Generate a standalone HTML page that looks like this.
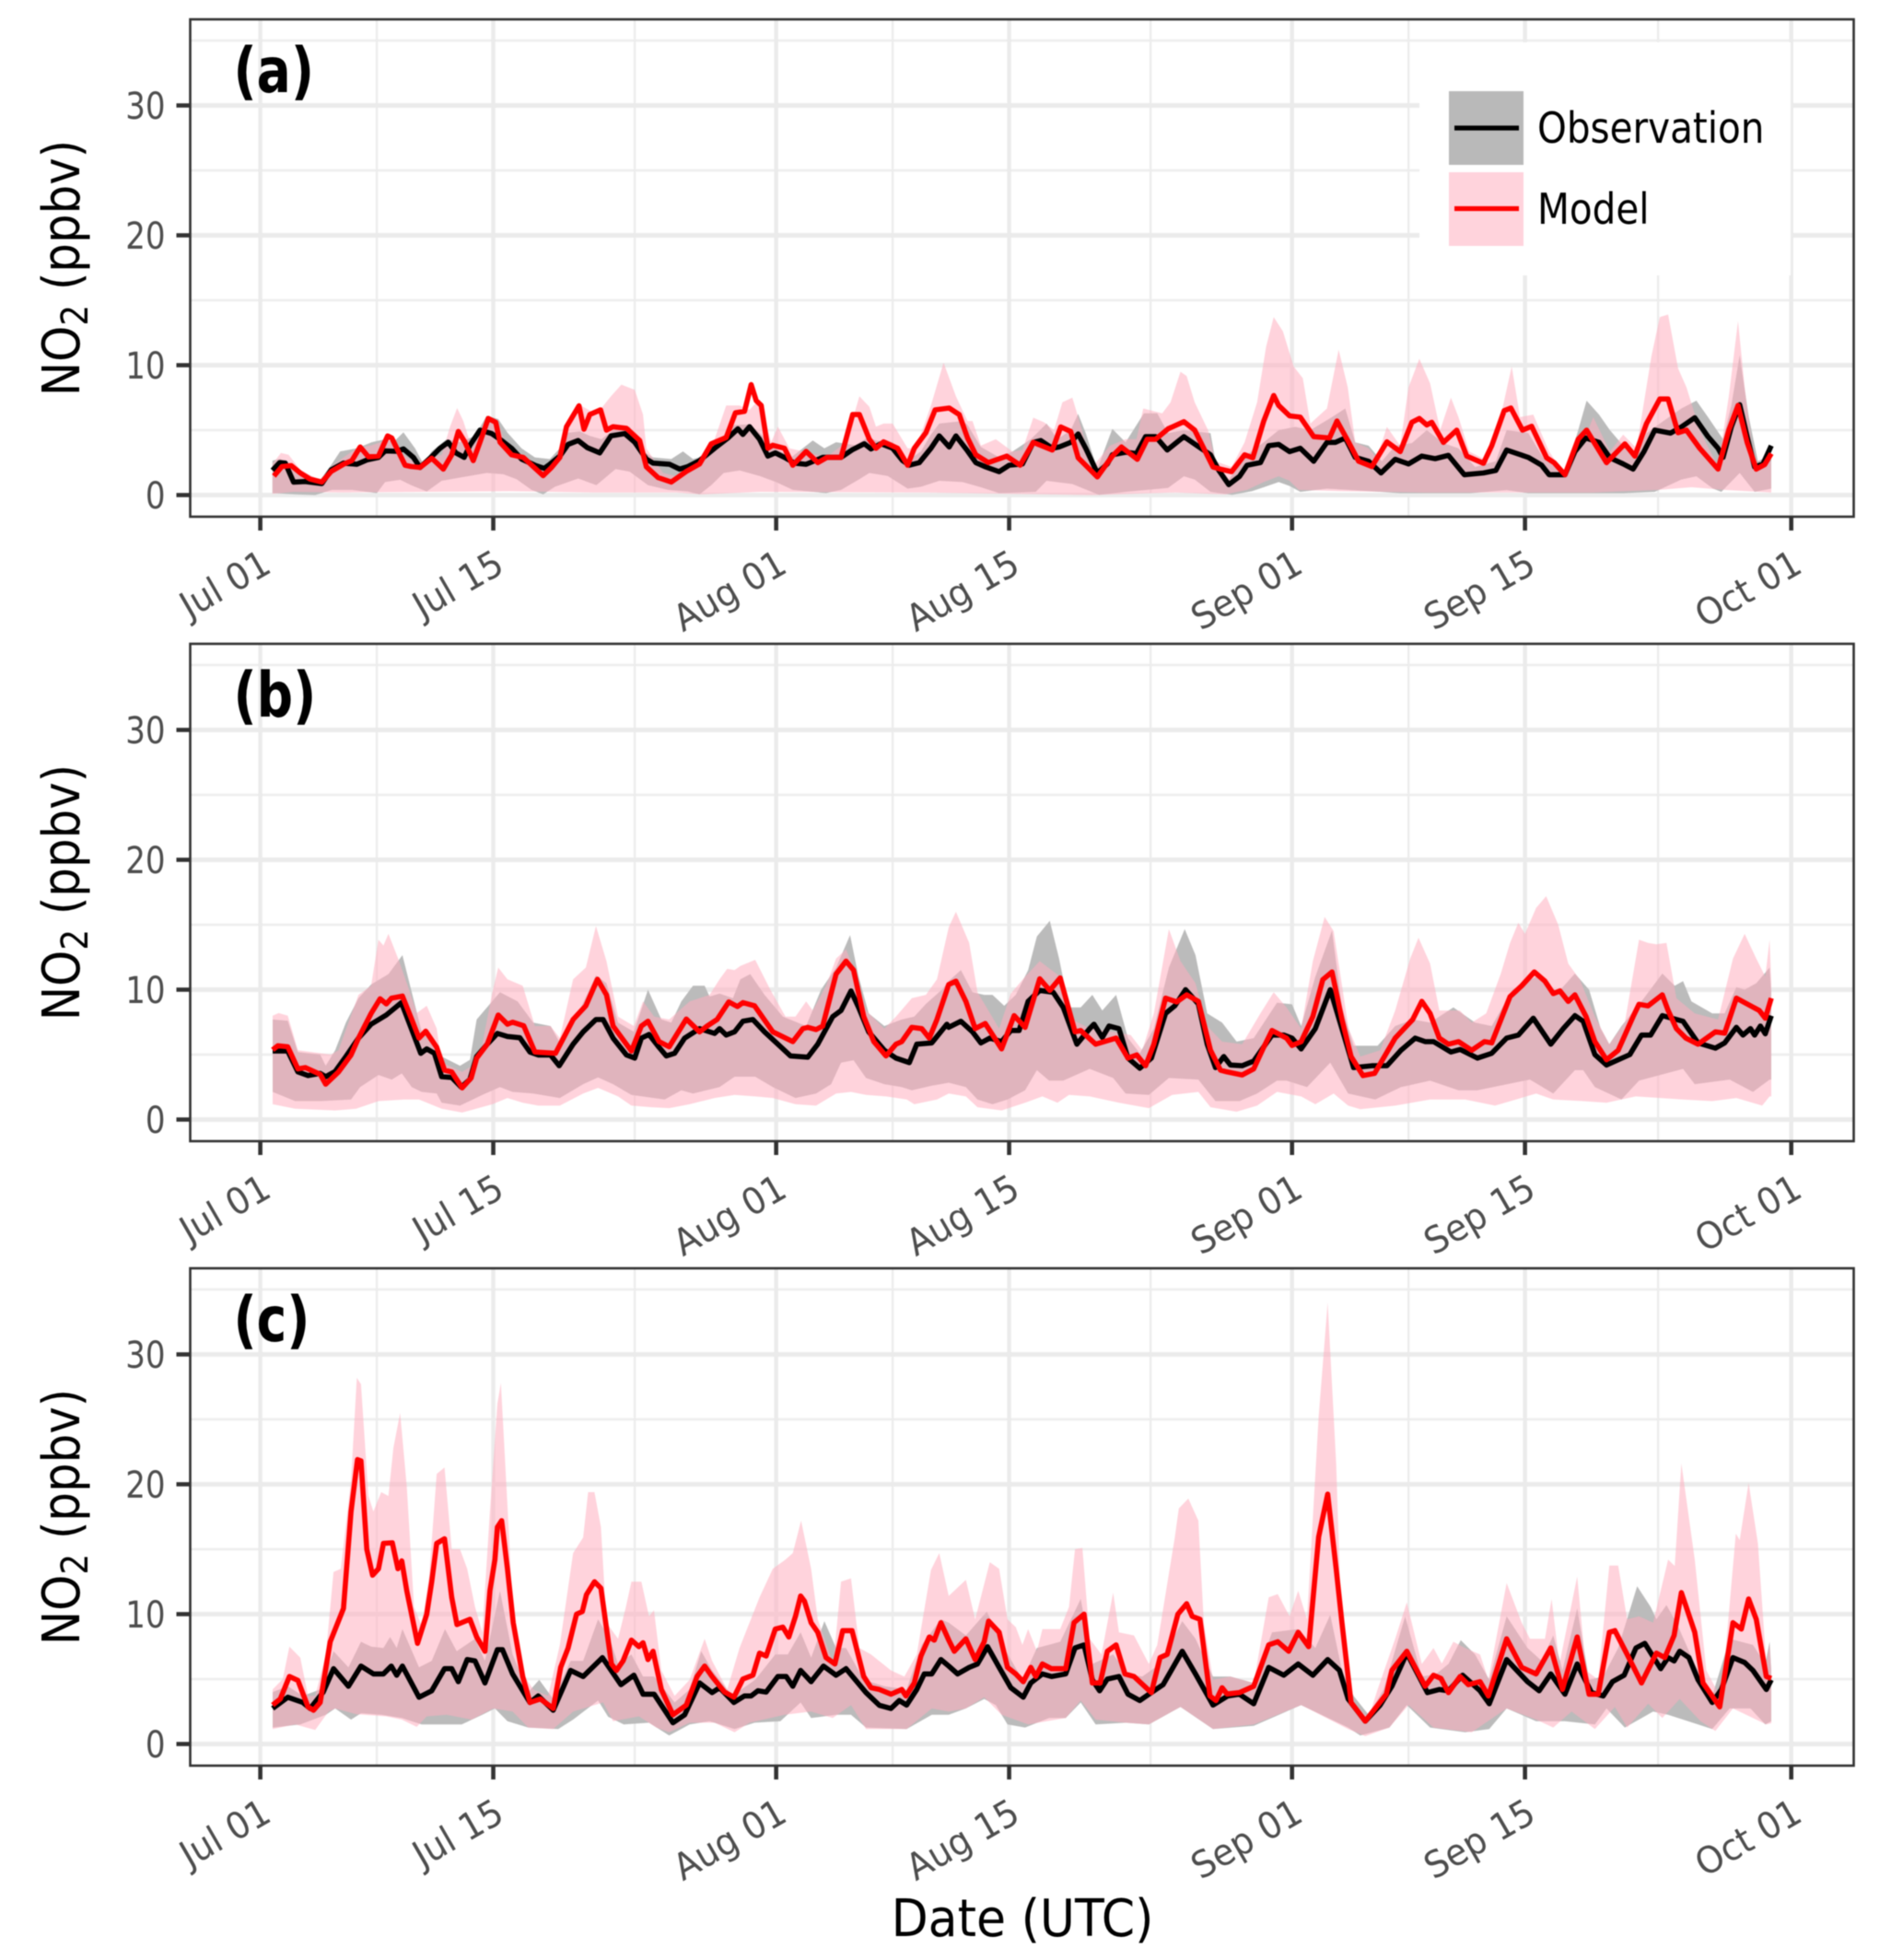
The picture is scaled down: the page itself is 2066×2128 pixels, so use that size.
<!DOCTYPE html>
<html><head><meta charset="utf-8"><title>NO2 observation vs model</title>
<style>html,body{margin:0;padding:0;background:#fff}svg{display:block;filter:blur(.6px)}text{font-family:"DejaVu Sans","Liberation Sans",sans-serif}</style>
</head><body>
<svg id="chart" xmlns="http://www.w3.org/2000/svg" width="2066" height="2128" viewBox="0 0 2066 2128"></svg>
<script>
const xTickDays=[0,14,31,45,62,76,92];
const xTickLabels=["Jul 01","Jul 15","Aug 01","Aug 15","Sep 01","Sep 15","Oct 01"];
const xMinorDays=[7,22.5,38,53.5,69,84];
const yTicks=[0,10,20,30];
const yMinor=[5,15,25,35];
const panelLabels=["(a)","(b)","(c)"];

const aObs=[[.73,1.9],[1.16,2.5],[1.5,2.46],[2,1],[2.7,1.04],[3.7,.88],[4.26,1.94],[5,2.46],[5.8,2.37],[6.4,2.7],[7.1,2.9],[7.5,3.4],[8.2,3.37],[8.6,3.55],[9.2,2.9],[9.6,2.13],[10.2,2.84],[10.8,3.6],[11.3,4.07],[11.75,3.25],[12.25,2.9],[12.6,3.84],[13.2,5],[13.9,4.74],[14.4,4.3],[15.1,3.6],[15.7,2.77],[16.5,2.3],[17.06,2.06],[17.4,2.37],[18,3],[18.5,3.9],[19.1,4.2],[19.65,3.65],[20.4,3.25],[21.07,4.55],[21.9,4.74],[22.5,4.07],[23.2,2.77],[23.6,2.46],[24.6,2.37],[25.2,2],[25.7,2.2],[26.4,2.65],[27.3,3.6],[28.1,4.4],[28.7,5.1],[29,4.67],[29.4,5.26],[30,4.3],[30.5,3],[30.95,3.25],[31.5,2.9],[32.1,2.46],[32.8,2.37],[33.8,2.9],[34.9,2.9],[35.6,3.5],[36.3,3.95],[36.7,3.55],[37.3,3.95],[38,3.6],[38.6,2.65],[39,2.3],[39.6,2.5],[40.3,3.6],[40.8,4.55],[41.4,3.7],[41.8,4.55],[42.5,3.4],[43,2.5],[43.6,2.16],[44.4,1.8],[45,2.3],[45.8,2.4],[46.45,4.06],[46.9,4.2],[47.6,3.6],[48,3.7],[48.7,4.06],[49.15,4.7],[49.6,3.6],[50.3,1.7],[50.9,2.4],[51.2,3.1],[52,3.3],[52.65,3.2],[53.2,4.5],[53.8,4.5],[54.5,3.47],[55.5,4.5],[56.3,3.8],[57.1,3.1],[57.6,1.9],[58.2,.8],[58.85,1.45],[59.3,2.3],[60.1,2.5],[60.6,3.8],[61.2,3.9],[61.85,3.35],[62.5,3.6],[63.3,2.6],[64.1,4.06],[64.6,4.06],[65.2,4.4],[65.8,2.9],[66.6,2.6],[67.35,1.7],[68.2,2.75],[69,2.4],[69.8,3],[70.6,2.8],[71.4,3.06],[72.35,1.57],[73.5,1.7],[74.25,1.9],[74.9,3.47],[76.2,2.9],[77,2.3],[77.45,1.57],[78.4,1.57],[79,3.35],[79.65,4.4],[80.45,4.06],[81.1,2.87],[81.9,2.4],[82.5,2],[83.15,3.35],[83.8,5],[84.75,4.77],[85.4,5.25],[86.2,5.96],[87,4.5],[87.6,3.6],[87.9,2.9],[88.4,5.25],[88.9,6.96],[89.35,4.5],[89.8,2.16],[90.3,2.4],[90.8,3.8]];
const aMod=[[.82,1.47],[1.3,2.2],[1.86,2.27],[2.4,1.7],[3,1.23],[3.7,1],[4.26,1.82],[5,2.37],[5.5,2.65],[6,3.7],[6.5,2.94],[7.1,3],[7.65,4.55],[7.9,4.4],[8.7,2.3],[9.06,2.2],[9.6,2.13],[10.3,2.84],[11,2],[11.5,3.1],[11.9,4.9],[12.3,4.07],[12.8,2.65],[13.2,4.07],[13.7,5.9],[14.15,5.6],[14.4,4.07],[15.1,3.1],[15.8,2.9],[17,1.5],[17.5,2.13],[18,2.9],[18.4,5.26],[19.15,6.87],[19.45,5.07],[19.8,6.2],[20.45,6.56],[20.8,5],[21.2,5.26],[22,5.14],[22.8,4.2],[23.2,2.18],[23.9,1.35],[24.7,1],[25.6,1.82],[26.4,2.4],[27.1,3.95],[28,4.43],[28.55,6.33],[29.1,6.45],[29.5,8.5],[29.8,7.27],[30.1,6.9],[30.5,3.6],[30.8,3.84],[31.5,3.6],[32,2.3],[32.8,3.36],[33.5,2.5],[34.06,2.9],[34.9,2.9],[35.6,6.2],[36,6.2],[36.6,4.3],[37,3.6],[37.45,4.1],[38.3,3.6],[38.9,2.3],[39.3,3.6],[40,4.8],[40.55,6.56],[41.4,6.7],[42,6.2],[42.5,4.4],[43,3.1],[43.75,2.5],[44.85,3],[45.66,2.3],[46.45,4.06],[47.6,3.47],[48.1,5.25],[48.7,4.9],[49.15,2.87],[50.3,1.4],[51.2,3],[51.75,3.7],[52.7,2.75],[53.3,4.3],[53.8,4.3],[54.55,5.1],[55.5,5.65],[56.15,5],[57.25,2.16],[57.7,2],[58.37,1.8],[59.15,3.1],[59.64,2.87],[60.3,5.7],[60.9,7.67],[61.2,6.9],[61.85,6.1],[62.5,6],[63.3,4.5],[64.25,4.4],[64.7,5.7],[65.35,4.2],[66,2.6],[66.8,2.2],[67.7,4.1],[68.5,3.35],[69.2,5.6],[69.65,5.9],[70.1,5.4],[70.4,5.6],[71.1,4.06],[71.9,5],[72.5,3],[73.5,2.45],[74,3.8],[74.75,6.5],[75.15,6.7],[75.85,5],[76.4,5.3],[77.3,2.87],[77.75,2.5],[78.4,1.57],[79.2,4.3],[79.7,5],[80.9,2.5],[82,3.94],[82.6,3],[83.3,5.5],[84.1,7.4],[84.6,7.4],[85.2,4.8],[85.7,5],[86.5,3.6],[87.6,2],[88.25,5],[88.8,6.9],[89.35,4.06],[89.9,2],[90.4,2.35],[90.8,3.2]];
const aObsHi=[[.73,2.65],[1.2,2.8],[1.9,2.2],[3.56,1.1],[4.3,2.4],[4.8,3.36],[5.8,3.6],[6.7,4.07],[7.5,4.3],[8,4.07],[8.6,4.83],[9.3,3.6],[9.8,2.4],[10.3,3.36],[11.2,4.3],[12,4.07],[12.9,4.55],[13.6,6.1],[14.3,5.85],[14.85,4.8],[15.7,3.6],[16.5,2.9],[17.4,2.77],[18,3.6],[18.5,4.8],[19.2,4.9],[19.8,4.55],[20.5,4.3],[21.2,5],[22.2,5.26],[23,3.36],[23.6,2.9],[24.7,2.77],[25.4,3.36],[26,2.77],[26.7,3],[27.6,4.3],[28.5,5.4],[29.4,5.45],[30.2,4.55],[30.95,3.6],[31.9,2.9],[33.2,4.2],[33.9,3.6],[34.6,4.07],[35.75,3.84],[36.5,4.43],[37,4.2],[38,4.07],[38.9,2.65],[39.7,3.36],[40.3,4.67],[40.8,5.5],[42.2,5.7],[42.5,5.4],[43.3,3.7],[44.4,2.9],[45.2,3.35],[46.3,4.3],[47.25,5.5],[47.9,4.3],[48.7,5],[49.15,6.25],[49.6,4.77],[50.3,2],[51.2,5.1],[52,4.06],[53.1,6.3],[53.9,6.3],[54.55,4.77],[55.5,5],[57.1,4.77],[57.4,2.6],[58.2,1.2],[59.3,3.1],[60.3,4.06],[61.2,5],[62.2,5.25],[63.1,5],[64.4,6],[65.2,6.67],[65.8,4.06],[66.6,3.8],[67.4,2.6],[68.2,3.8],[69.2,4],[70.1,5],[71.1,4],[72,3.6],[73,2.16],[74.25,2.6],[74.9,5],[76.2,4.77],[77.1,2.87],[78.4,1.57],[79.2,5],[79.7,7.27],[80.45,6.2],[81.1,5],[81.9,3.8],[82.7,2.87],[83.3,4.77],[84.1,5.5],[85.4,6.67],[86.3,7.27],[87,6],[87.9,4.3],[88.4,6.9],[88.9,10.76],[89.45,6],[90,2.6],[90.8,3.1]];
const aObsLo=[[.73,.15],[2.1,.05],[3.3,0],[4.3,.4],[5.5,.4],[7,.15],[7.5,1],[8.4,1.18],[9.06,.76],[10,.28],[10.9,1.1],[12,1.35],[13.6,1.7],[14.6,1.6],[15.4,1.23],[16.3,.4],[17,.05],[17.7,.64],[19.1,1.28],[20.2,.76],[21.35,2],[22.2,1.8],[23.3,.76],[24.5,.4],[25.7,.28],[26.4,.05],[27.1,.76],[27.85,1.7],[28.8,1.9],[30,1.47],[31,1],[32,.4],[34,.15],[34.9,.4],[36,1.23],[36.6,1.7],[37.7,1.47],[38.9,.5],[39.7,.64],[40.8,1.1],[42.2,1],[43.3,.6],[44.4,.15],[46.6,.25],[47.25,1.1],[48.8,.85],[50.4,.02],[52,.25],[54.55,.55],[55.5,1.45],[56.15,1.2],[57.1,.25],[58.4,.02],[59.6,.3],[60.3,.6],[61.2,1],[61.85,.7],[62.5,.25],[64.1,.5],[67.3,.25],[68.5,.14],[72.7,.14],[74.9,.38],[76.2,.14],[81.9,.14],[83.8,.25],[85.4,1.2],[86.3,1.45],[87.3,.5],[87.8,.25],[88.9,1.7],[89.8,.25],[90.8,.5]];
const aModHi=[[.73,2.4],[1.24,3.25],[1.7,3.1],[2.4,1.94],[3.1,1.47],[3.7,1.1],[4.26,2.2],[5,2.9],[5.8,3.6],[6.7,3.84],[7.8,4.3],[8.6,3.1],[9.5,2.3],[10.3,2.9],[10.9,3.1],[11.4,5.26],[11.83,6.7],[12.2,5.7],[12.6,4.07],[13.2,4.55],[13.7,6],[14.3,5.6],[14.85,3.36],[16,2.65],[17.4,2.06],[18,3.1],[18.5,5.5],[19.1,7],[19.9,6.45],[20.5,6.7],[21.07,7.6],[21.7,8.5],[22.5,8.1],[23,6.2],[23.2,3.6],[24.2,1.7],[25.3,1.35],[26.4,2.4],[27.3,4.3],[28,6.9],[28.8,6.9],[29.4,6.56],[30,7.4],[30.4,5.5],[30.7,4.07],[31.1,5.26],[31.8,3.6],[32.65,3.36],[34,2.9],[35.2,4.07],[36,7.6],[36.6,6.8],[37,5.26],[37.45,5.5],[38,5.5],[38.9,3.6],[39.4,3.6],[40.3,6.9],[41.06,10.2],[41.8,7.6],[42.5,5.7],[42.8,5.7],[43.3,3.8],[44.2,4.3],[45.2,3.35],[45.8,3.47],[46.45,5.96],[47.1,5.6],[47.7,5],[48.2,7.15],[48.8,7.5],[49.15,6],[50,2.16],[51.06,3.8],[52,4.3],[52.65,4.3],[53.06,6.67],[54.2,6.3],[54.7,7.15],[55.3,9.5],[55.67,9.17],[56.15,7.15],[56.95,5],[57.4,2.6],[58.37,2.16],[59.15,4.06],[59.9,7.15],[60.44,11.4],[60.9,13.7],[61.45,12.6],[62.1,9.9],[62.65,9],[63.1,5.5],[64.1,6.67],[64.8,11.2],[65.35,8.3],[65.8,4.06],[66.6,3.6],[67.1,2.87],[67.7,5.25],[68.5,3.8],[69,8.3],[69.65,10.5],[70.3,8.6],[70.9,5],[71.55,7.5],[72,6],[72.65,3.35],[73.8,2.6],[74.6,6.4],[75.2,9.9],[75.7,6],[76.5,6.2],[77.45,3.35],[78.4,1.57],[79.5,4.06],[80.1,6],[81.1,3.35],[81.9,4.65],[82.7,3.6],[83.6,10.7],[84.1,13.7],[84.6,13.9],[85.2,9.76],[85.7,8.3],[86.5,5],[87.6,2.16],[88.25,7.6],[88.8,13.4],[89.2,8.3],[89.8,2.16],[90.8,2.6]];
const aModLo=[[.73,.1],[2,.25],[5,.2],[10,.25],[15,.3],[20,.2],[25,.2],[26.5,.05],[30,.25],[40,.2],[45,.1],[50,0],[55,.2],[58,.05],[59.3,.4],[60.3,1],[61.2,1.45],[61.85,1.1],[62.4,.4],[65,.3],[70,.2],[75,.2],[80,.2],[84,.4],[86,.6],[88,.4],[90.8,.2]];

const bObs=[[.74,5.28],[1.65,5.28],[2.26,3.67],[2.87,3.38],[3.6,3.55],[3.93,3.3],[4.5,3.7],[5.14,4.85],[5.9,6.27],[6.66,7.34],[7.57,8.05],[8.48,9],[8.94,7.46],[9.64,5.1],[10,5.44],[10.46,5.1],[10.9,3.3],[11.5,3.24],[12.07,2.5],[12.6,3.1],[13,4.85],[13.64,5.8],[14.25,6.63],[14.85,6.4],[15.6,6.3],[16.2,5.2],[16.7,4.97],[17.44,4.97],[17.96,4.14],[18.8,5.8],[19.4,6.75],[20.17,7.7],[20.6,7.7],[21.2,6.27],[22,4.97],[22.5,4.73],[22.9,6.27],[23.36,6.55],[23.96,5.56],[24.4,4.9],[24.9,5.1],[25.5,6.27],[26.4,7],[27.3,6.63],[27.6,7],[28,6.5],[28.5,6.75],[29,7.57],[29.6,7.7],[30.3,6.75],[31.1,5.8],[31.86,4.9],[32.9,4.8],[33.5,5.8],[34.4,7.93],[34.9,8.4],[35.5,9.9],[35.95,8.64],[36.56,6.75],[37.5,5.33],[38.2,4.73],[39,4.38],[39.45,5.8],[40.35,5.9],[41.26,7.34],[41.37,7.1],[42.1,7.57],[42.8,6.75],[43.3,5.9],[43.84,6.27],[44.55,6],[45.1,6.86],[45.6,6.86],[46.14,9.1],[46.84,9.94],[47.65,9.8],[48.25,8.64],[49.07,5.8],[49.84,7],[50.1,7.34],[50.6,6.32],[51,7.2],[51.6,7],[52.14,4.73],[52.85,3.95],[53.55,4.73],[54.4,8.17],[54.96,8.76],[55.6,10],[56.37,8.9],[56.9,5.8],[57.4,4],[57.9,4.85],[58.3,4.2],[59,4.14],[59.7,4.5],[60.8,6.5],[61.5,6.5],[62,6.27],[62.55,5.44],[63.4,7],[64.3,10],[65,7],[65.7,4],[66.8,4.14],[67.7,4.14],[68.55,5.33],[69.4,6.27],[70,6],[70.5,6],[71.55,5.2],[72.1,5.4],[73.14,4.73],[74,5.1],[74.9,6.27],[75.6,6.5],[76.5,7.8],[77.55,5.8],[78.3,7],[79,8],[79.5,7.57],[80.2,5],[80.9,4.2],[82.3,5],[83,6.5],[83.55,6.5],[84.25,8],[85.5,7.57],[86.4,5.9],[87.44,5.5],[88,5.9],[88.7,7.1],[89.1,6.5],[89.55,7],[89.8,6.5],[90.15,7.2],[90.44,6.6],[90.8,8]];
const bMod=[[.74,5.37],[1.05,5.68],[1.65,5.6],[2.26,3.9],[2.7,4],[3.6,3.48],[3.93,2.72],[4.7,3.67],[5.45,4.97],[5.9,6.27],[6.66,8.17],[7.2,9.3],[7.57,8.9],[7.88,9.35],[8.54,9.5],[9.1,7.7],[9.54,6.27],[9.94,6.8],[10.6,5.56],[11.07,3.8],[11.5,3.67],[12.13,2.44],[12.67,3.2],[13,4.73],[13.64,5.8],[14.3,8.05],[14.85,7.34],[15.16,7.5],[15.83,7.22],[16.5,5.2],[17.74,5.1],[18.8,7.7],[19.56,8.76],[20.26,10.8],[20.8,9.6],[21.2,7.2],[22.3,5.28],[22.9,7.2],[23.3,7.57],[23.96,6],[24.57,5.6],[25.6,7.74],[26.4,6.75],[26.85,7.2],[27.45,7.7],[28.15,9.06],[28.67,8.7],[29,9],[29.7,8.76],[30.8,6.75],[32,6],[32.6,7],[32.9,7.1],[33.4,6.93],[33.8,7.2],[34.6,11.2],[35.2,12.2],[35.65,11.5],[36.26,7.93],[36.87,6],[37.6,4.9],[38.2,5.8],[38.55,6],[39.15,7.1],[39.75,7],[40.2,6.27],[40.66,7.7],[41.37,10.4],[41.8,10.65],[42.4,9.1],[42.96,7],[43.56,7.4],[44.55,5.44],[45.3,8],[45.96,7.1],[46.84,10.84],[47.44,9.94],[48.07,10.9],[48.96,6.75],[49.3,6.85],[50.2,5.8],[51.43,6.27],[52.14,4.73],[52.67,4.97],[53.2,4.14],[53.7,5.8],[54.4,9.35],[55.07,9.06],[55.67,9.6],[56.37,9.1],[57.1,5.33],[57.7,3.8],[58.1,3.67],[59,3.43],[59.7,3.9],[60.25,5.44],[60.8,6.86],[61.67,6.27],[62,5.7],[62.55,6],[63.25,7.93],[63.85,10.77],[64.4,11.36],[65,7.7],[65.55,4.85],[66.26,3.38],[66.96,3.55],[68.2,6.27],[69.25,7.7],[69.8,9.1],[70.3,8.17],[70.85,6.27],[71.4,5.8],[72,6],[72.8,5.33],[73.56,6],[74,5.9],[75.1,9.47],[75.8,10.3],[76.56,11.36],[77.2,10.65],[77.7,9.7],[78.1,9.9],[78.6,9.1],[79,9.6],[79.67,7.93],[80.2,6],[80.9,4.6],[81.6,5.33],[82.5,7.93],[82.85,8.87],[83.4,8.75],[84.25,9.6],[84.6,8.4],[85.1,7],[85.67,6.27],[86.4,5.8],[87.44,6.75],[88,6.65],[88.7,9.35],[89.2,9],[90.08,8.4],[90.44,7.8],[90.8,9.35]];
const bObsHi=[[.74,7.7],[1.65,7.6],[2.26,5.2],[3.6,5],[3.93,4.14],[4.5,5.33],[5.14,7.46],[5.9,9.35],[6.66,10.4],[7.7,11.2],[8.54,12.66],[9.1,9.8],[9.7,6.75],[10.46,6],[10.9,4.85],[12,4.14],[12.6,4.6],[13,7.7],[14.4,9.8],[15.46,9.1],[16.4,7.46],[17.44,7.2],[17.96,6],[19.1,8.17],[20.17,11.1],[20.8,10.5],[21.5,7.46],[22.45,6.75],[23.3,10],[24.1,7.7],[24.7,7.46],[25.3,9.1],[26,10.3],[26.7,10.3],[27,9.47],[27.6,9.7],[28.4,9.35],[28.85,10.8],[29.44,11.2],[30.3,9.6],[31.4,7.93],[32.8,7.2],[33.7,10],[34.6,11.7],[35.44,14.2],[35.95,11],[36.56,8.17],[37.5,7.2],[38.55,7.7],[39.3,7.93],[40,8.9],[40.96,10],[41.4,10.7],[42.1,11.5],[42.8,9.8],[43.5,9.6],[44,9.6],[44.7,8.76],[45.4,9.6],[46.14,11.5],[46.67,14.1],[47.44,15.3],[48,12.4],[48.6,8.64],[49.3,8.64],[50,9.6],[50.6,8.4],[51.43,9.6],[52.14,6.27],[52.85,5.1],[53.7,7],[54.6,11.7],[55.55,14.67],[56.2,12.66],[56.9,8.17],[57.8,7.46],[58.67,6],[59.7,6.27],[61.1,9],[62,8.87],[62.55,7.2],[63.4,11],[64.4,14.55],[65,8.64],[65.7,5.68],[67.14,5.68],[68.2,7.2],[69.25,7.7],[70.3,7.46],[71.7,8.64],[73,7.46],[74,7.2],[75.26,10],[76.67,11],[78,9.8],[79,11.24],[79.85,10],[80.55,7],[81.07,5.8],[81.8,7.2],[83,9.1],[84.25,11.24],[85,10.3],[85.5,10.65],[86,9.1],[87.25,8.17],[88,8.17],[88.7,10.2],[89.2,10],[89.9,10.5],[90.7,11.7],[90.8,9.8]];
const bObsLo=[[.74,2.13],[2.1,1.42],[3.6,1.42],[5.45,1.54],[6,2.5],[7.1,3.43],[7.9,3.08],[8.5,3.55],[9.1,2.5],[9.7,2.13],[10.6,2],[10.9,1.3],[12,1.07],[13.34,1.9],[14.4,2.5],[15.16,2.13],[16.4,2],[18,1.66],[19.4,2.72],[20.3,3.24],[21.2,2.72],[22.3,1.9],[24.3,1.54],[25.3,2.25],[26,2],[27.6,2.5],[28.5,3.3],[29.74,3.3],[30.8,2.5],[32.16,1.66],[33.4,2],[34.3,2.72],[34.9,4.38],[35.65,4.57],[36.4,3.2],[37.5,2.72],[38.55,2.5],[39.15,2.25],[40.35,2.6],[41.37,2.84],[42.4,2.5],[43.1,1.54],[44,1.18],[44.9,1.54],[45.96,2.25],[46.67,3.8],[47.4,3],[48.25,3],[49.84,3.9],[51.25,3.2],[52,2],[53.4,1.9],[54.6,3.2],[56.37,3.08],[57.4,1.42],[58.84,1.42],[59.9,2],[61.1,3],[61.67,3],[62.9,2.5],[64.3,4.38],[65.37,2],[67,1.54],[68.55,2.5],[70.3,3],[72,2.25],[73.14,2.25],[76.3,3.08],[77.7,2],[79,3.8],[79.5,3.8],[80.2,2.5],[81.8,1.54],[82.85,3],[85.5,3.9],[86.2,2.72],[88.3,3.08],[89.7,2.13],[90.7,3.08],[90.8,3.08]];
const bModHi=[[.74,8],[1.1,8.2],[1.65,8],[2.26,5.33],[4.24,5],[4.7,5.33],[5.9,9.6],[6.66,10.3],[7.1,13.85],[7.4,13.4],[7.7,14.3],[8.34,12.2],[8.94,10],[9.4,8.2],[10,8.76],[10.6,7],[10.9,4.4],[12.13,3.67],[12.73,4.14],[13.34,5.8],[13.95,9.8],[14.3,11.7],[14.85,10.8],[15.77,10.3],[16.5,7.2],[17.44,7.2],[18,6.27],[18.8,10.8],[19.56,11.7],[20.17,14.9],[20.8,12.2],[21.5,7.93],[22.45,7.2],[23,9.1],[23.67,7.93],[24.57,7.7],[25.8,9.1],[27,9.6],[27.6,10.8],[28.06,11.6],[28.5,11.5],[28.85,11.83],[29.74,12.3],[30.65,10],[31.56,7.93],[32.16,7.93],[32.8,9.1],[33.2,8.4],[34,10.3],[34.6,12.4],[35.2,13.1],[35.8,11.2],[36.4,8.4],[37.5,7],[38.2,7.93],[39.15,9.35],[40,9.6],[40.66,10.8],[41.37,14.8],[41.8,16],[42.6,13.6],[43.1,9.8],[44.4,7],[45.1,9.7],[45.96,11],[46.84,12.2],[48.07,11],[48.8,7.7],[49.84,7],[51.25,6.75],[52.3,6.5],[53,5.33],[53.7,8.17],[54.6,14.67],[55.3,12.2],[56.2,10.5],[56.9,7.2],[57.8,6],[59,5.8],[60.1,8.17],[60.9,9.8],[61.67,8.64],[62.55,7],[63.25,12.2],[63.96,15.6],[64.5,14.5],[65.4,7],[66.1,4.85],[67.3,5.33],[68.2,8.4],[69.1,12.4],[69.6,14],[70.3,12],[70.85,8.4],[72.08,8.4],[72.8,7.46],[73.67,8.17],[74.55,11.24],[75.1,13.6],[75.6,15.15],[76,14.3],[76.67,16.3],[77.27,17.2],[78,15],[78.6,12],[79.3,10.77],[80.2,7.93],[81.07,5.8],[82,7.46],[82.85,13.85],[83.4,13.6],[83.9,13.5],[84.5,13.6],[85.1,9.35],[86.2,8.17],[87.6,7.7],[88.5,12.4],[89.2,14.3],[89.9,12.4],[90.44,11],[90.7,13.85],[90.8,10.5]];
const bModLo=[[.74,1.18],[2.1,.83],[4.5,.7],[5.75,.83],[7.1,1.42],[8.65,1.54],[9.54,1.54],[10.9,.83],[12.13,.54],[13.95,1.18],[14.85,1.66],[15.77,1.3],[16.7,1.07],[18,1.07],[19.4,2],[20.3,2.44],[21.5,1.78],[22.3,1.07],[23.5,.95],[24.57,.88],[25.8,1.18],[27.3,1.66],[28.5,1.9],[29.74,1.78],[30.8,1.66],[32.16,1.18],[33.4,1.07],[34.6,2],[35.5,2.13],[36.4,1.9],[37.6,1.78],[38.85,1.54],[39.3,1.18],[40.66,1.54],[41.37,2],[42.4,1.78],[43.1,.95],[44.55,.7],[45.96,1.3],[47,1.78],[47.9,1.3],[48.6,1.9],[49.84,1.78],[51.6,1.3],[53.4,.88],[54.8,1.9],[56.37,2.13],[57.1,.95],[58.67,.6],[59.9,1.07],[61.1,2.13],[62.55,1.78],[63.4,1.18],[64.5,2],[65.37,1.07],[66.1,.8],[68.2,1.07],[70.3,1.54],[72.4,1.54],[74.2,1.07],[76.67,2],[77.7,1.54],[79.5,1.42],[80.9,1.3],[82.65,1.78],[85.5,1.54],[87.25,1.42],[88.7,1.66],[90.25,1.07],[90.7,1.78],[90.8,1.78]];

const cObs=[[.74,2.74],[1.65,3.6],[2.56,3.2],[3,2.74],[3.78,4],[4.4,5.8],[5.3,4.45],[6.05,6],[6.8,5.4],[7.4,5.4],[7.87,6],[8.2,5.3],[8.54,6],[9.54,3.6],[10.3,4.1],[11.07,5.8],[11.5,5.8],[11.9,4.8],[12.43,6.5],[12.9,6.4],[13.5,4.7],[14.25,7.26],[14.55,7.26],[15.16,5.4],[16.2,3.2],[16.7,3.7],[17.6,2.6],[18.65,5.67],[19.4,5.2],[20.17,6.16],[20.56,6.65],[21.67,4.57],[22.45,5.3],[23,3.84],[23.67,3.84],[24.8,1.64],[25.5,2.25],[26.4,4.7],[27.15,3.96],[27.6,4.33],[28.46,3.2],[29.1,3.7],[29.5,3.7],[29.9,4.1],[30.4,4],[31.1,5.2],[31.6,5.2],[32,4.45],[32.47,5.67],[33.1,4.8],[33.84,6],[34.6,5.3],[35.2,5.8],[36.4,3.96],[37.2,2.98],[37.9,2.74],[38.4,3.35],[38.84,3],[39.45,4.2],[39.9,5.4],[40.35,5.4],[40.9,6.5],[41.37,6],[41.9,5.4],[42.6,5.9],[43.1,6.16],[43.7,7.5],[44.4,5.9],[45.1,4.33],[45.85,3.6],[46.3,4.7],[47,5.4],[47.55,5.2],[48.4,5.4],[48.96,7.4],[49.5,7.63],[50,4.94],[50.44,4.1],[50.9,5],[51.6,5.2],[52.14,3.84],[52.85,3.35],[53.4,3.84],[54.25,4.57],[55.4,7.14],[56.2,5.4],[57.25,3],[58.14,3.7],[58.84,3.84],[59.7,3.1],[60.6,5.9],[61.5,5.3],[62.37,6.16],[63.25,5.3],[64.14,6.5],[64.85,5.67],[65.37,3.47],[66.4,1.76],[67.3,3],[68,4.45],[68.9,7],[70.14,3.96],[70.85,4.2],[71.4,4.1],[72.25,5.3],[73.3,4.1],[73.85,3.1],[74.9,6.5],[76.15,4.8],[76.85,4.1],[77.55,5.4],[78.4,3.84],[79.14,6.16],[80,3.96],[80.7,3.7],[81.26,4.8],[81.96,5.3],[82.67,7.4],[83.2,7.75],[84.15,5.8],[84.6,6.65],[84.96,6.4],[85.3,7.14],[85.85,6.65],[86.4,4.94],[87.25,3.2],[87.8,4.2],[88.5,6.65],[89.2,6.28],[89.7,5.67],[90.5,4.2],[90.8,4.94]];
const cMod=[[.74,3],[1.2,3.47],[1.75,5.2],[2.26,4.9],[2.87,2.86],[3.2,2.6],[3.6,3.2],[4.2,7.87],[5,10.44],[5.45,17.9],[5.84,21.9],[6.05,21.8],[6.4,15],[6.75,13],[7.1,13.5],[7.4,15.45],[7.93,15.5],[8.27,13.5],[8.5,14.1],[8.8,11.8],[9.45,7.75],[10,10],[10.3,12.5],[10.6,15.45],[11.07,15.8],[11.5,11.3],[11.82,9.2],[12.6,9.6],[13,8.24],[13.5,7.14],[13.8,11.8],[14.1,14.2],[14.25,16.7],[14.5,17.2],[14.85,13.5],[15.2,9.34],[15.77,5.2],[16.2,3.2],[16.83,3.47],[17.6,2.74],[18.05,5.9],[18.5,7.4],[19,10],[19.35,10.2],[19.6,11.5],[20.08,12.5],[20.47,12],[21.1,6.16],[21.4,5.67],[21.8,6.4],[22.3,8],[22.75,7.5],[23,7.8],[23.3,6.5],[23.6,7.14],[24.1,4.2],[24.8,2.25],[25.6,3],[26.25,5.2],[26.7,6],[27.15,5.2],[27.9,4],[28.46,3.6],[29,5],[29.6,5.3],[30,7],[30.4,6.77],[30.95,8.85],[31.4,9],[31.76,8.24],[32.16,9.83],[32.47,11.4],[32.7,11],[33.1,9.34],[33.5,8.6],[34,6.65],[34.53,6.16],[35,8.73],[35.56,8.73],[36.26,5.2],[36.7,4.33],[37.2,4.2],[37.9,3.84],[38.55,4.2],[38.8,3.7],[39.3,4.7],[39.7,6.77],[40.2,8.24],[40.5,8],[40.9,9.34],[41.37,8],[41.7,7.14],[42.4,8.1],[42.96,6.5],[43.5,7.87],[43.77,9.46],[44.4,8.6],[44.9,5.9],[45.4,5.4],[45.85,4.8],[46.3,5.9],[46.6,5.2],[47,6.16],[47.55,5.8],[48.4,5.8],[48.9,9.34],[49.5,10],[50,4.7],[50.47,4.7],[50.9,7.14],[51.43,7.63],[51.96,5.4],[52.5,5.2],[53.55,3.96],[54.07,6.65],[54.5,6.9],[55.14,10],[55.67,10.8],[56,9.83],[56.47,9.6],[57.07,3.7],[57.43,3.35],[57.8,4.33],[58.1,3.85],[58.84,3.96],[59.7,4.45],[60.6,7.63],[61.14,7.87],[61.8,7.14],[62.37,8.6],[63,7.5],[63.6,15.94],[64.14,19.24],[64.65,13.5],[65,9.34],[65.55,3.2],[66.4,1.76],[67.67,3.84],[68,5.67],[68.9,7.14],[70,4.45],[70.5,5.3],[70.95,5.05],[71.4,3.96],[72.1,5.2],[72.6,4.57],[73.3,4.8],[73.8,3.7],[74.9,8.1],[75.8,5.9],[76.67,5.4],[77.55,7.4],[78.25,4.2],[79.14,8.24],[79.85,3.84],[80.4,3.84],[81.07,8.6],[81.4,8.73],[82.14,6.9],[83,4.7],[83.9,7],[84.4,6.65],[84.96,8.36],[85.4,11.66],[86.2,8.6],[86.7,4.7],[87.7,2.86],[88.5,9.34],[89,8.85],[89.44,11.17],[89.9,9.6],[90.5,5.2],[90.8,5.06]];
const cObsHi=[[.74,4],[1.65,4.45],[2.56,3.7],[3.6,4.2],[4.4,7.14],[5.3,5.9],[6.05,7.87],[6.66,7.5],[7.4,7.4],[7.8,8.24],[8.2,7.4],[8.54,8.85],[9.54,5.9],[10.3,6.4],[11.1,8.85],[11.8,7.14],[12.9,8.1],[13.5,6.4],[14.4,11.8],[15.16,6.9],[16.1,4],[16.76,4.94],[17.6,3.47],[18.65,6.4],[19.4,6.4],[20.3,9.6],[21,8.1],[21.5,6.16],[22.3,6.9],[23,5.2],[23.67,5.2],[24.9,3.2],[25.8,4.2],[26.5,7.14],[27.15,5.67],[28.36,3.7],[29.74,4.94],[30.95,6.9],[31.7,6.9],[32.47,8.6],[33.1,6.65],[33.9,9.46],[34.6,7.4],[35.2,7.4],[36.26,4.94],[37.5,4.45],[38.84,4.2],[39.75,7.63],[40.9,9.6],[41.37,9.34],[42.4,8.36],[43.66,10.2],[44.7,7.4],[45.8,4.94],[46.67,7.4],[48.07,7.87],[49.3,11.17],[50,6.16],[51.25,6.9],[52.14,5.4],[53,5.2],[54.07,6.16],[55.4,9.46],[56.2,8.1],[57.25,5.2],[58.3,5.2],[59.7,4.7],[60.8,8.6],[62.37,8.85],[63.4,7.4],[64.3,9.95],[65,5.67],[65.7,3.7],[66.6,2.25],[67.5,4.2],[68.8,9.83],[69.8,5.2],[70.67,5.4],[71.4,6.16],[72.14,8],[73,6.9],[73.85,4.94],[74.9,9.83],[76.15,7.4],[77,6.4],[77.7,8.36],[78.25,5.67],[79.14,10.44],[79.85,4.94],[80.7,5.2],[81.6,7.4],[82.74,12.15],[83.55,10.56],[83.9,9.6],[84.5,10.7],[85.1,9.34],[86.2,6.16],[87.25,3.7],[88.3,8.1],[89.7,7.63],[90.44,6.16],[90.7,7.87],[90.8,5.67]];
const cObsLo=[[.74,1.27],[2.4,1.5],[3.94,2.25],[4.5,2.74],[5.45,1.88],[6.05,2.37],[7.27,2.25],[8.5,2],[9.7,1.5],[11,1.5],[12.1,1.5],[13.34,2.25],[14.1,2.74],[14.85,1.76],[16.1,1.27],[17.9,1.15],[18.8,1.88],[20.3,3.35],[20.9,2.1],[21.84,1.5],[23.36,1.64],[24.57,.66],[25.8,1.5],[27,1.76],[28.5,1.15],[29.7,1.64],[31.25,1.76],[32.47,3.2],[33.1,2],[34.6,2.25],[35.5,2.25],[36.4,1.27],[38.84,1.15],[40.35,2.25],[41.37,2.25],[42.4,2.74],[43.5,3.47],[44.2,3],[44.9,1.5],[45.96,1.27],[47.4,2],[48.4,2],[49.3,3.2],[50.2,1.5],[52,1.64],[53.4,1.5],[55.3,2.86],[57.25,1.15],[59.7,1.4],[62.55,3],[65.37,1.27],[66.1,.66],[67.85,1.27],[68.9,3],[70.3,1.27],[72.4,.9],[73.85,1.15],[74.9,2.74],[76.67,1.76],[78.4,1.76],[80.2,1.5],[80.9,2.74],[82,1.27],[83.7,2.5],[84.6,2.25],[87.25,1.15],[88.3,2.74],[89.55,2.74],[90.44,1.5],[90.8,1.76]];
const cModHi=[[.74,4.2],[1.35,5],[1.75,7.5],[2.4,6.65],[2.87,3.7],[3.3,3.7],[3.94,6.9],[4.4,13.25],[4.84,13.5],[5.45,20.3],[5.8,28.2],[6.05,27.7],[6.5,19.1],[6.8,17.9],[7.27,19.4],[7.7,19.1],[8,22.8],[8.4,25.5],[8.8,19.85],[9.24,10.56],[9.7,9.1],[10.15,13],[10.6,20.8],[11.07,21.3],[11.5,15],[12,15],[12.43,13.5],[12.9,10.56],[13.34,8.6],[13.8,17.9],[14.25,26.2],[14.46,27.8],[14.85,18.4],[15.16,10.56],[15.77,5.43],[16.4,4.2],[17.3,3.7],[18,7.63],[18.8,14.7],[19.4,15.9],[19.7,19.4],[20.08,19.4],[20.47,16.7],[20.8,9.34],[21.5,8.1],[21.97,10.56],[22.3,12.5],[22.9,12.5],[23.36,9.83],[23.66,10.3],[24.1,5.67],[24.9,3.7],[25.8,4.94],[26.7,8.1],[27.15,6.4],[28.06,4.2],[28.8,7.4],[30,11.3],[30.8,13.5],[31.56,14.2],[32,14.7],[32.5,17.2],[33.1,13.5],[33.5,9.6],[34.43,6.16],[34.9,12.5],[35.5,12.76],[36,7.4],[36.7,6.9],[37.9,5.67],[38.7,5.2],[39.45,6.9],[40.3,13.4],[40.8,14.7],[41.37,11.4],[42.4,12.64],[42.96,9.6],[43.84,14],[44.4,13.5],[44.9,9.6],[45.4,9],[45.8,7.63],[46.14,8.85],[46.67,7.14],[47,8.85],[48.07,8.85],[48.6,10.56],[48.96,15],[49.4,15.1],[49.84,8.1],[50.55,6.9],[51.25,11.66],[51.6,8.6],[52.5,8.36],[53.4,6.16],[53.9,7.63],[54.96,15.94],[55.2,18.14],[55.77,18.9],[56.37,17.2],[56.7,9.34],[57.25,4.94],[58.3,5.2],[59.7,4.7],[60.6,11.3],[61.14,11.54],[61.85,9.83],[62.37,11.8],[62.9,9.6],[63.6,25.2],[64.14,34],[64.65,21.6],[65,8.1],[65.7,3.2],[66.6,2],[67.14,4.2],[68.2,8.1],[68.9,10.9],[69.8,6.16],[70.5,7.4],[71,6.2],[71.7,7.87],[72.4,7.4],[73.3,6.9],[73.8,4.94],[74.9,12.4],[75.8,9.34],[76.3,8.1],[77.2,8.1],[77.6,11.17],[78.07,6.16],[79.14,12.9],[79.67,5.67],[80.4,4.94],[81.07,13.74],[81.6,13.74],[82.14,9.6],[82.85,9.83],[83.7,9.34],[84.6,14.2],[85,13.7],[85.4,21.6],[86.2,14.2],[86.9,5.67],[87.8,3.47],[88.67,16.2],[88.9,15.7],[89.44,20.1],[90,15.45],[90.5,6.16],[90.7,7.63],[90.8,5.67]];
const cModLo=[[.74,1.15],[2.1,1.5],[3.3,1.08],[4.1,2.5],[4.5,2.74],[5.75,2.3],[7.57,2.13],[8.5,1.88],[9.4,1.32],[10,2.13],[11.2,2.25],[12.7,1.88],[14,2.74],[15.16,2.5],[16.1,1.27],[17.6,1.15],[18.8,2.5],[20.6,3.2],[21.2,1.76],[22.75,2.13],[23.8,1.27],[24.57,.9],[25.8,1.64],[27.3,1.64],[28.5,.9],[29.4,1.64],[31.5,2.25],[33.1,2.5],[34.4,2],[35.5,3],[36.4,1.15],[38.84,1.15],[40.35,2.74],[41.37,2.5],[42.4,2.74],[43.5,3.6],[44.55,2.25],[46.14,1.5],[48.4,2],[49.3,3.35],[50.2,1.88],[52,1.64],[53.4,1.5],[55.3,2.86],[57.25,1.15],[59.7,1.5],[62.55,3],[65.37,1.15],[66.4,.6],[67.85,1.27],[69,3],[70.5,1.27],[72.8,.9],[74.9,2.74],[76.67,1.88],[77.7,1.27],[78.8,2.5],[80.2,1.15],[81.4,2.86],[82.14,1.27],[83.4,3.1],[84.25,2],[85.3,3.47],[86.55,1.76],[87.44,1],[88.5,2.74],[90.5,1.5],[90.8,1.6]];

const svg=document.getElementById('chart');
const NS='http://www.w3.org/2000/svg';
const plotLeft=206.5,plotRight=2012.5,plotHeight=540;
const panelTops=[21,699,1377];
function xScale(day){return 282.6+18.066*day;}
function yScale(top,v){return top+516.5-14.1*v;}
function add(parent,tag,attrs,text){
  const e=document.createElementNS(NS,tag);
  for(const k in attrs)e.setAttribute(k,attrs[k]);
  if(text!==undefined)e.textContent=text;
  parent.appendChild(e);
  return e;
}
function linePath(top,pts){
  return pts.map((p,i)=>(i?'L':'M')+xScale(p[0]).toFixed(1)+' '+yScale(top,p[1]).toFixed(1)).join('');
}
function bandPath(top,hi,lo){
  const fwd=hi.map((p,i)=>(i?'L':'M')+xScale(p[0]).toFixed(1)+' '+yScale(top,p[1]).toFixed(1)).join('');
  const back=lo.slice().reverse().map(p=>'L'+xScale(p[0]).toFixed(1)+' '+yScale(top,p[1]).toFixed(1)).join('');
  return fwd+back+'Z';
}
function drawPanel(idx,series){
  const top=panelTops[idx],bottom=top+plotHeight;
  const g=add(svg,'g',{});
  
  
  const bg=add(g,'rect',{x:plotLeft,y:top,width:plotRight-plotLeft,height:plotHeight,fill:'#fff'});
  
  
  xMinorDays.forEach(d=>{
    const l=add(g,'line',{x1:xScale(d),x2:xScale(d),y1:top,y2:bottom,stroke:'#ededed','stroke-width':2.4});
    
    
  });
  yMinor.forEach(v=>{
    const l=add(g,'line',{x1:plotLeft,x2:plotRight,y1:yScale(top,v),y2:yScale(top,v),stroke:'#ededed','stroke-width':2.6});
    
    
  });
  xTickDays.forEach(d=>{
    const l=add(g,'line',{x1:xScale(d),x2:xScale(d),y1:top,y2:bottom,stroke:'#ebebeb','stroke-width':4.4});
    
    
  });
  yTicks.forEach(v=>{
    const l=add(g,'line',{x1:plotLeft,x2:plotRight,y1:yScale(top,v),y2:yScale(top,v),stroke:'#ebebeb','stroke-width':5});
    
    
  });
  const ro=add(g,'path',{d:bandPath(top,series.obsHi,series.obsLo),fill:'#bbbbbb'});
  
  
  const rm=add(g,'path',{d:bandPath(top,series.modHi,series.modLo),fill:'#ffadbe','fill-opacity':.54});
  
  
  const lo=add(g,'path',{d:linePath(top,series.obs),fill:'none',stroke:'#000','stroke-width':5.6,'stroke-linejoin':'round'});
  
  
  const lm=add(g,'path',{d:linePath(top,series.mod),fill:'none',stroke:'#ff0000','stroke-width':5.6,'stroke-linejoin':'round'});
  
  
  const border=add(g,'rect',{x:plotLeft,y:top,width:plotRight-plotLeft,height:plotHeight,fill:'none',stroke:'#333','stroke-width':2.6});
  
  
  yTicks.forEach(v=>{
    const y=yScale(top,v);
    const t=add(g,'line',{x1:plotLeft-15,x2:plotLeft,y1:y,y2:y,stroke:'#333','stroke-width':4.6});
    
    
    const lab=add(g,'text',{transform:`translate(179.5,${y+14.5}) scale(.85,1)`,'text-anchor':'end','font-size':40,fill:'#4d4d4d'},String(v));
    
    
  });
  xTickDays.forEach((d,i)=>{
    const x=xScale(d);
    const t=add(g,'line',{x1:x,x2:x,y1:bottom,y2:bottom+15,stroke:'#333','stroke-width':4.6});
    
    
    const lab=add(g,'text',{transform:`translate(${x+14},${bottom+59}) rotate(-30) scale(.94,1)`,'text-anchor':'end','font-size':40,fill:'#4d4d4d'},xTickLabels[i]);
    
    
  });
  const yt=add(g,'text',{transform:`translate(86,${top+270}) rotate(-90) scale(.89,1)`,'text-anchor':'middle','font-size':56,fill:'#000'});
  
  
  add(yt,'tspan',{},'NO');
  add(yt,'tspan',{dy:9,'font-size':40},'2');
  add(yt,'tspan',{dy:-9},' (ppbv)');
  const pl=add(g,'text',{transform:`translate(${plotLeft+47},${top+79}) scale(.81,1)`,'font-size':68,'font-weight':'bold',fill:'#000'},panelLabels[idx]);
  
  
}
drawPanel(0,{obs:aObs,mod:aMod,obsHi:aObsHi,obsLo:aObsLo,modHi:aModHi,modLo:aModLo});
drawPanel(1,{obs:bObs,mod:bMod,obsHi:bObsHi,obsLo:bObsLo,modHi:bModHi,modLo:bModLo});
drawPanel(2,{obs:cObs,mod:cMod,obsHi:cObsHi,obsLo:cObsLo,modHi:cModHi,modLo:cModLo});

const legend=add(svg,'g',{});


const legendBg=add(legend,'rect',{x:1541,y:46,width:403,height:253,fill:'#fff'});


const keyObs=add(legend,'rect',{x:1573,y:99,width:81,height:80,fill:'#b9b9b9'});


const keyMod=add(legend,'rect',{x:1573,y:187,width:81,height:80,fill:'#ffd3dc'});


const keyObsLine=add(legend,'line',{x1:1579,x2:1649,y1:139,y2:139,stroke:'#000','stroke-width':5.2});


const keyModLine=add(legend,'line',{x1:1579,x2:1649,y1:226.5,y2:226.5,stroke:'#f00','stroke-width':5.2});


const legObsText=add(legend,'text',{transform:'translate(1669,155) scale(.88,1)','font-size':46,fill:'#000'},'Observation');


const legModText=add(legend,'text',{transform:'translate(1669,243) scale(.88,1)','font-size':46,fill:'#000'},'Model');


const xTitle=add(svg,'text',{transform:'translate(1110,2102) scale(.93,1)','text-anchor':'middle','font-size':56,fill:'#000'},'Date (UTC)');


</script>
</body></html>
